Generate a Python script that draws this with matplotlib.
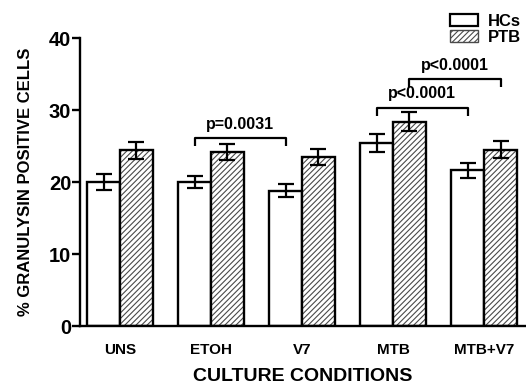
import numpy as np
import matplotlib
matplotlib.use("Agg")
import matplotlib.pyplot as plt
from matplotlib.patches import Patch
from matplotlib.font_manager import FontProperties

plt.rcParams["font.family"] = ["Liberation Sans", "DejaVu Sans"]
plt.rcParams["font.weight"] = "bold"
plt.rcParams["hatch.linewidth"] = 0.8

# Granulysin positive cells (%) per culture condition
conditions = ["UNS", "ETOH", "V7", "MTB", "MTB+V7"]
hcs_mean = [20.0, 20.0, 18.8, 25.4, 21.6]
hcs_err = [1.1, 0.8, 0.9, 1.2, 1.0]
ptb_mean = [24.4, 24.2, 23.5, 28.4, 24.5]
ptb_err = [1.2, 1.1, 1.1, 1.3, 1.2]

# significance brackets: (left group, left series, right group, right series, y, text)
brackets = [
    (1, "HCs", 2, "HCs", 26.1, "p=0.0031"),
    (3, "HCs", 4, "HCs", 30.3, "p<0.0001"),
    (3, "PTB", 4, "PTB", 34.3, "p<0.0001"),
]

W, H = 526, 387
fig = plt.figure(figsize=(W / 100, H / 100), dpi=100)
ax = fig.add_axes([80 / W, 1 - 326 / H, 446 / W, 288 / H])

x = np.arange(len(conditions))
w = 0.36
offs = {"HCs": -w / 2, "PTB": w / 2}
hatch_col = "#4a4a4a"

ax.bar(x + offs["HCs"], hcs_mean, w, color="white", edgecolor="black", linewidth=1.7, zorder=2)
# hatched fill in grey, black outline drawn on top
ax.bar(x + offs["PTB"], ptb_mean, w, color="white", edgecolor=hatch_col, hatch="//////",
       linewidth=0, zorder=2)
ax.bar(x + offs["PTB"], ptb_mean, w, fill=False, edgecolor="black", linewidth=1.7, zorder=3)

ax.errorbar(x + offs["HCs"], hcs_mean, yerr=hcs_err, fmt="none", ecolor="black",
            elinewidth=1.6, capsize=6, capthick=1.6, zorder=4)
ax.errorbar(x + offs["PTB"], ptb_mean, yerr=ptb_err, fmt="none", ecolor="black",
            elinewidth=1.6, capsize=6, capthick=1.6, zorder=4)

for g1, s1, g2, s2, y, txt in brackets:
    x1 = g1 + offs[s1]
    x2 = g2 + offs[s2]
    ax.plot([x1, x1, x2, x2], [y - 1.1, y, y, y - 1.1], color="black", lw=1.6,
            solid_capstyle="butt", zorder=5, clip_on=False)
    ax.text((x1 + x2) / 2, y + 1.3, txt, ha="center", va="baseline", fontsize=11.5,
            fontweight="bold", zorder=5)

ax.set_xlim(-0.44, 4.46)
ax.set_ylim(0, 40)
ax.set_yticks([0, 10, 20, 30, 40])
ax.set_xticks(x)
ax.set_xticklabels(conditions)

ax.spines["top"].set_visible(False)
ax.spines["right"].set_visible(False)
ax.spines["left"].set_linewidth(1.7)
ax.spines["bottom"].set_linewidth(1.7)
ax.tick_params(axis="y", length=5.8, width=1.7, pad=0.5, labelsize=14.5)
ax.tick_params(axis="x", length=0, pad=12, labelsize=11)
for lab in ax.get_yticklabels() + ax.get_xticklabels():
    lab.set_fontweight("bold")

ax.set_xlabel("CULTURE CONDITIONS", fontsize=14, fontweight="bold")
ax.xaxis.set_label_coords(0.5, -0.145)
ax.set_ylabel("% GRANULYSIN POSITIVE CELLS", fontsize=12, fontweight="bold")
ax.yaxis.set_label_coords(-0.105, 0.5)

handles = [
    Patch(facecolor="white", edgecolor="black", linewidth=1.6, label="HCs"),
    Patch(facecolor="white", edgecolor=hatch_col, hatch="//////", linewidth=1.0, label="PTB"),
]
leg_font = FontProperties(family="Liberation Sans", weight="bold", size=12)
fig.legend(handles=handles, loc="upper left", bbox_to_anchor=(450 / W, 1 - 14 / H),
           frameon=False, handlelength=1.7, handleheight=0.72,
           labelspacing=0.05, handletextpad=0.6, borderpad=0, borderaxespad=0,
           prop=leg_font)

fig.savefig("out.png", dpi=100)
